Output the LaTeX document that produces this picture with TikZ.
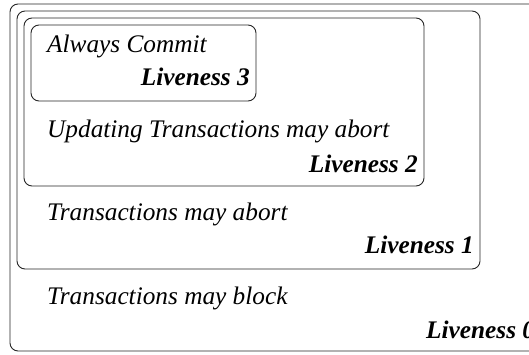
\documentclass[tikz,border=0pt]{standalone}
\usepackage{fontspec}
\setmainfont{Liberation Serif}
\begin{document}
\begin{tikzpicture}[x=1pt,y=1pt,
  box/.style={draw=black!85,line width=0.9pt,rounded corners=8pt},
  txt/.style={font=\fontsize{25.3}{28}\selectfont\itshape,anchor=base west,inner sep=0pt},
  lv/.style={font=\fontsize{25.3}{28}\selectfont\bfseries\itshape,anchor=base east,inner sep=0pt}]
\useasboundingbox (0,0) rectangle (529,354);
\clip (0,0) rectangle (529,354);
\draw[box] (10,350) rectangle (560,3);
\draw[box] (17,343) rectangle (480,85);
\draw[box] (24,336) rectangle (424,168);
\draw[box] (31,329) rectangle (256,253);
\node[txt] (t3) at (47,301) {Always Commit};
\node[lv] (l3) at (250,268) {Liveness 3};
\node[txt] (t2) at (47,217) {Updating Transactions may abort};
\node[lv] (l2) at (418,182) {Liveness 2};
\node[txt] (t1) at (47,134) {Transactions may abort};
\node[lv] (l1) at (474,101) {Liveness 1};
\node[txt] (t0) at (47,50) {Transactions may block};
\node[lv,anchor=base west] (l0) at (426,16) {Liveness 0};
\end{tikzpicture}
\end{document}
